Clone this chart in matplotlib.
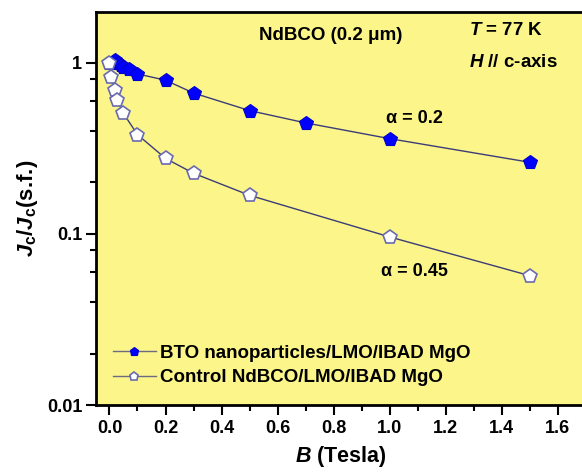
import numpy as np
import matplotlib.pyplot as plt
from matplotlib.ticker import FixedLocator, NullFormatter

plt.rcParams['font.family'] = ['Liberation Sans', 'DejaVu Sans']
plt.rcParams['font.weight'] = 'bold'
plt.rcParams['mathtext.fontset'] = 'custom'
plt.rcParams['mathtext.it'] = 'Liberation Sans:italic:bold'
plt.rcParams['mathtext.rm'] = 'Liberation Sans:bold'

# Jc(B)/Jc(self-field) at 77 K, H // c-axis
b_bto = [0.0, 0.01, 0.02, 0.03, 0.04, 0.05, 0.07, 0.1, 0.2, 0.3, 0.5, 0.7, 1.0, 1.5]
jc_bto = [1.0, 1.0, 1.04, 0.99, 0.97, 0.95, 0.92, 0.86, 0.79, 0.665, 0.525, 0.445, 0.36, 0.262]

b_ctrl = [0.0, 0.005, 0.018, 0.028, 0.05, 0.1, 0.2, 0.3, 0.5, 1.0, 1.5]
jc_ctrl = [1.0, 0.83, 0.69, 0.605, 0.505, 0.38, 0.276, 0.226, 0.168, 0.096, 0.057]

label_bto = 'BTO nanoparticles/LMO/IBAD MgO'
label_ctrl = 'Control NdBCO/LMO/IBAD MgO'

fig = plt.figure(figsize=(5.82, 4.76), dpi=100)
ax = fig.add_axes([0.165, 0.149, 0.84, 0.826])
ax.set_facecolor('#FBF58A')

line_col = '#3c3c78'
ax.plot(b_bto, jc_bto, '-', color=line_col, lw=1.0, marker='p', ms=10.5,
        mfc='#0000FF', mec='#0000CC', mew=0.8, label=label_bto)
ax.plot(b_ctrl, jc_ctrl, '-', color=line_col, lw=1.0, marker='p', ms=10.5,
        mfc='white', mec='#6A6AB0', mew=1.2, label=label_ctrl)

ax.set_yscale('log')
ax.set_xlim(-0.048, 1.697)
ax.set_ylim(0.01, 1.98)

ax.set_xticks(np.arange(0, 1.61, 0.2))
ax.set_xticks(np.arange(0.1, 1.61, 0.2), minor=True)
ax.set_xticklabels(['%.1f' % v for v in np.arange(0, 1.61, 0.2)])
ax.yaxis.set_major_locator(FixedLocator([0.01, 0.1, 1]))
ax.set_yticklabels(['0.01', '0.1', '1'])
ax.yaxis.set_minor_locator(FixedLocator([0.02, 0.04, 0.06, 0.08, 0.2, 0.4, 0.6, 0.8]))
ax.yaxis.set_minor_formatter(NullFormatter())

ax.tick_params(axis='both', which='major', labelsize=13, width=1.5, length=7, direction='out')
ax.tick_params(axis='both', which='minor', width=1.5, length=4, direction='out')
ax.tick_params(axis='y', which='both', right=True, pad=3)
for sp in ax.spines.values():
    sp.set_linewidth(2)

ax.set_xlabel(r'$B$ (Tesla)', fontsize=15.5, fontweight='bold', labelpad=5)
ax.set_ylabel(r'$J_{\rm c}/J_{\rm c}$(s.f.)', fontsize=16, fontweight='bold', labelpad=5)

ax.text(0.48, 0.94, 'NdBCO (0.2 μm)', transform=ax.transAxes,
        fontsize=13.5, ha='center', va='center')
ax.text(0.762, 0.952, r'$T$ = 77 K', transform=ax.transAxes, fontsize=13.5, va='center')
ax.text(0.762, 0.872, r'$H$ // c-axis', transform=ax.transAxes, fontsize=13.5, va='center')
ax.text(1.09, 0.475, 'α = 0.2', fontsize=13, ha='center', va='center')
ax.text(1.09, 0.0605, 'α = 0.45', fontsize=13, ha='center', va='center')

leg = ax.legend(loc='lower left', bbox_to_anchor=(0.0, 0.005), frameon=False,
                fontsize=13.5, handlelength=2.3, handletextpad=0.2,
                labelspacing=0.38, markerscale=0.6)
for h in leg.legend_handles:
    h.set_color('#6a6a80')

fig.savefig('out.png', dpi=100)
